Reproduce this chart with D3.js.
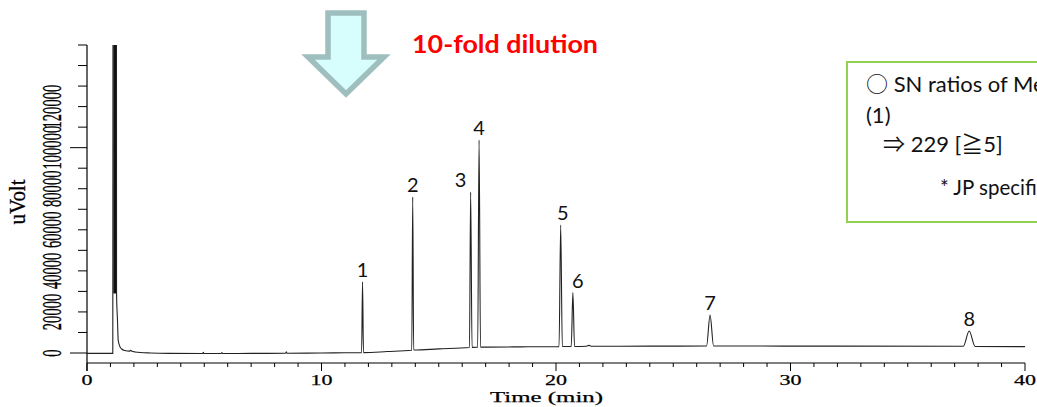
<!DOCTYPE html>
<html>
<head>
<meta charset="utf-8">
<script src="https://cdn.jsdelivr.net/npm/d3@7"></script>
<style>
  body { margin: 0; background: #fff; }
  svg { display: block; }
</style>
</head>
<body>
<div id="chart"></div>
<script>
// chromatogram trace (time in min, signal in uVolt)
const traceTime = [
  0.0, 1.10, 1.12, 1.25, 1.26, 1.30, 1.33, 1.40, 1.48, 1.62, 1.80, 1.87, 1.92, 2.05, 2.7,
  3.5, 4.93, 4.96, 4.99, 5.72, 5.75, 5.78, 7.0, 8.47, 8.50, 8.53, 10.0, 11.0,
  11.71, 11.75, 11.79, 12.8, 13.85, 13.89, 13.93, 15.0,
  16.31, 16.36, 16.42, 16.66, 16.72, 16.78, 18.5,
  20.13, 20.20, 20.27, 20.65, 20.72, 20.79, 21.3, 21.4, 21.5, 24.0,
  26.42, 26.57, 26.72, 32.0, 37.37, 37.62, 37.87, 40.0
];
const traceSignal = [
  -200, -200, 400000, 400000, 29000, 16000, 6300, 3200, 1950, 1200, 900, 1300, 800, 500, 0,
  -200, -250, 300, -250, -250, 200, -250, -200, -150, 600, -150, 0, 100,
  150, 34600, 200, 700, 1350, 76000, 1450, 2000,
  2700, 78400, 2750, 2800, 103700, 2850, 3000,
  3100, 62300, 3150, 3200, 29400, 3200, 3300, 3700, 3300, 3350,
  3400, 18500, 3400, 3350, 3300, 10700, 3200, 3100
];

// off-scale solvent front (saturated detector band)
const solventBandTime = [1.12, 1.25];
const solventBandLow = 29000;

// numbered peaks
const peakNames = ["1", "2", "3", "4", "5", "6", "7", "8"];
const peakTimes = [11.75, 13.89, 16.36, 16.72, 20.20, 20.72, 26.57, 37.62];
const peakHeights = [34600, 76000, 78400, 103700, 62300, 29400, 18500, 10700];

// axes
const xTickLabels = [0, 10, 20, 30, 40];
const yTickLabels = [0, 20000, 40000, 60000, 80000, 100000, 120000];

const width = 1037, height = 407;
const x = d3.scaleLinear().domain([0, 40]).range([87, 1025]);
const y = d3.scaleLinear().domain([0, 150000]).range([353, 45]);
const axisY = 363;
const serif = "'Liberation Serif', 'Times New Roman', serif";
const sans = "Lato, 'Noto Sans', sans-serif";
const cjk = "'Noto Sans CJK JP', sans-serif";

const svg = d3.select("#chart").append("svg")
  .attr("width", width)
  .attr("height", height);

svg.append("defs").append("clipPath").attr("id", "plot")
  .append("rect").attr("x", 87).attr("y", 45).attr("width", 950).attr("height", 318);

// y axis
svg.append("line")
  .attr("x1", 87).attr("x2", 87).attr("y1", 45).attr("y2", axisY + 8)
  .attr("stroke", "#000").attr("stroke-width", 1.2);
d3.range(0, 150001, 10000).forEach(v => {
  const long = v % 100000 === 0;
  svg.append("line")
    .attr("x1", long ? 70 : 78).attr("x2", 87)
    .attr("y1", y(v)).attr("y2", y(v))
    .attr("stroke", "#000").attr("stroke-width", 1);
});
yTickLabels.forEach(v => {
  const s = String(v);
  svg.append("text")
    .attr("transform", `translate(61,${y(v)}) rotate(-90)`)
    .attr("x", -s.length * 7.3 / 2)
    .attr("textLength", s.length * 7.3)
    .attr("lengthAdjust", "spacingAndGlyphs")
    .style("font-family", serif)
    .style("font-size", "27px")
    .attr("stroke", "#000").attr("stroke-width", 0.35)
    .text(s);
});
svg.append("text")
  .attr("transform", "translate(25,202) rotate(-90)")
  .attr("x", -22.5)
  .attr("textLength", 45)
  .attr("lengthAdjust", "spacingAndGlyphs")
  .style("font-family", serif)
  .style("font-size", "24px")
  .attr("stroke", "#000").attr("stroke-width", 0.3)
  .text("uVolt");

// x axis
svg.append("line")
  .attr("x1", 87).attr("x2", 1025).attr("y1", axisY).attr("y2", axisY)
  .attr("stroke", "#000").attr("stroke-width", 1.2);
d3.range(0, 41, 1).forEach(t => {
  svg.append("line")
    .attr("x1", x(t)).attr("x2", x(t))
    .attr("y1", axisY).attr("y2", axisY + (t % 10 === 0 ? 8 : 4))
    .attr("stroke", "#000").attr("stroke-width", 1);
});
xTickLabels.forEach(t => {
  const s = String(t);
  const w = s.length * 11;
  svg.append("text")
    .attr("x", x(t) - w / 2).attr("y", 385)
    .attr("textLength", w)
    .attr("lengthAdjust", "spacingAndGlyphs")
    .style("font-family", serif)
    .style("font-size", "15px")
    .attr("stroke", "#000").attr("stroke-width", 0.25)
    .text(s);
});
svg.append("text")
  .attr("x", 490).attr("y", 402)
  .attr("textLength", 113)
  .attr("lengthAdjust", "spacingAndGlyphs")
  .style("font-family", serif)
  .style("font-size", "15px")
  .attr("stroke", "#000").attr("stroke-width", 0.25)
  .text("Time (min)");

// trace
const plot = svg.append("g").attr("clip-path", "url(#plot)");
const trace = traceTime.map((t, i) => [t, traceSignal[i]]);

plot.append("path")
  .datum(solventBandTime)
  .attr("d", d3.area().x(d => x(d)).y0(y(solventBandLow)).y1(y(400000)))
  .attr("fill", "#111");

plot.append("path")
  .datum(trace)
  .attr("d", d3.line().x(d => x(d[0])).y(d => y(d[1])).curve(d3.curveMonotoneX))
  .attr("fill", "none")
  .attr("stroke", "#222")
  .attr("stroke-width", 1.1);

// peak numbers
const labelShift = { "3": -10, "6": 5, "5": 2 };
peakNames.forEach((n, i) => {
  svg.append("text")
    .attr("x", x(peakTimes[i]) + (labelShift[n] || 0))
    .attr("y", y(peakHeights[i]) - 5)
    .attr("text-anchor", "middle")
    .style("font-family", sans)
    .style("font-size", "20px")
    .attr("fill", "#111")
    .text(n);
});

// arrow and annotation
svg.append("path")
  .attr("d", "M328,13 L364,13 L364,57 L384,57 L346,94 L308,57 L328,57 Z")
  .attr("fill", "#d8fdfd")
  .attr("stroke", "#9fbfbf")
  .attr("stroke-width", 5.5)
  .attr("stroke-linejoin", "miter");

svg.append("text")
  .attr("x", 412).attr("y", 53)
  .attr("textLength", 186)
  .attr("lengthAdjust", "spacingAndGlyphs")
  .style("font-family", sans)
  .style("font-weight", "bold")
  .style("font-size", "25px")
  .attr("fill", "#ff0000")
  .text("10-fold dilution");

// note box
svg.append("rect")
  .attr("x", 847).attr("y", 62).attr("width", 220).attr("height", 160)
  .attr("fill", "#fff")
  .attr("stroke", "#92d050")
  .attr("stroke-width", 2);

const note = (tx, ty, size, parts) => {
  const t = svg.append("text")
    .attr("x", tx).attr("y", ty)
    .style("font-family", sans)
    .style("font-size", size + "px")
    .attr("fill", "#111");
  parts.forEach(([s, wide]) => {
    t.append("tspan").style("font-family", wide ? cjk : sans).text(s);
  });
};
note(866, 92, 22, [["○", true], [" SN ratios of Methanol", false]]);
note(866, 123, 22, [["(1)", false]]);
note(883, 152, 22, [["⇒", true], [" 229 [", false], ["≧", true], ["5]", false]]);
note(940, 195, 20.5, [["* JP specification", false]]);
</script>
</body>
</html>
